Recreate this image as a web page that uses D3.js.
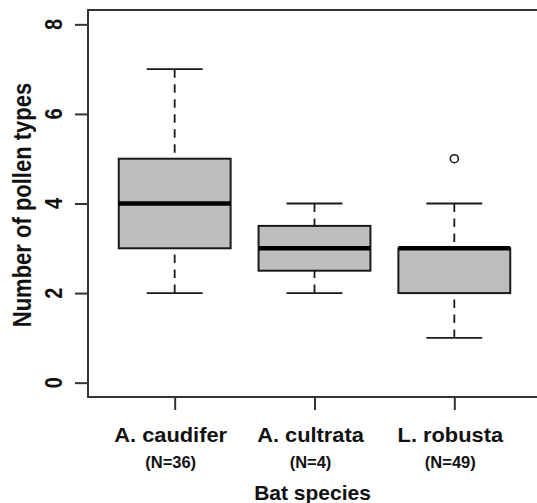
<!DOCTYPE html>
<meta charset="utf-8">
<head>
  <style>
    body { margin: 0; background: #fff; }
    svg { display: block; }
    .lbl { font-family: 'Liberation Sans', Arial, sans-serif; font-weight: bold; fill: #111; }
  </style>
</head>
<body>
<svg id="chart" width="537" height="503"></svg>
<script src="https://d3js.org/d3.v7.min.js"></script>
<script>
  // values
  var species = ["A. caudifer", "A. cultrata", "L. robusta"];
  var sampleN = ["(N=36)", "(N=4)", "(N=49)"];
  var whiskLo = [2, 2, 1];
  var q1 = [3, 2.5, 2];
  var med = [4, 3, 3];
  var q3 = [5, 3.5, 3];
  var whiskHi = [7, 4, 4];
  var outliers = [[], [], [5]];
  var yTicks = [0, 2, 4, 6, 8];

  var svg = d3.select("#chart");

  // R style limits: 4% padding
  var plotL = 88, plotR = 541, plotT = 10, plotB = 397;
  var x = d3.scaleLinear().domain([0.38, 3.62]).range([plotL, plotR]);
  var y = d3.scaleLinear().domain([-0.32, 8.32]).range([plotB, plotT]);

  var boxHalf = 0.4, capHalf = 0.2;
  var ink = "#1a1a1a";
  var wide = 1.12;   // the original text is a bit stretched sideways

  var boxes = species.map(function (s, i) {
    return {i: i + 1, lo: whiskLo[i], q1: q1[i], med: med[i], q3: q3[i], hi: whiskHi[i], out: outliers[i]};
  });

  var g = svg.selectAll("g.box").data(boxes).enter().append("g").attr("class", "box");

  // whiskers (dashed), drawn from the whisker end towards the box like R does
  g.append("line")
    .attr("x1", d => x(d.i)).attr("x2", d => x(d.i))
    .attr("y1", d => y(d.hi)).attr("y2", d => y(d.q3))
    .attr("stroke", ink).attr("stroke-width", 1.8).attr("stroke-dasharray", "8.5,6.5");
  g.append("line")
    .attr("x1", d => x(d.i)).attr("x2", d => x(d.i))
    .attr("y1", d => y(d.lo)).attr("y2", d => y(d.q1))
    .attr("stroke", ink).attr("stroke-width", 1.8).attr("stroke-dasharray", "8.5,6.5");

  // staples
  g.append("line")
    .attr("x1", d => x(d.i - capHalf)).attr("x2", d => x(d.i + capHalf))
    .attr("y1", d => y(d.hi)).attr("y2", d => y(d.hi))
    .attr("stroke", ink).attr("stroke-width", 1.8);
  g.append("line")
    .attr("x1", d => x(d.i - capHalf)).attr("x2", d => x(d.i + capHalf))
    .attr("y1", d => y(d.lo)).attr("y2", d => y(d.lo))
    .attr("stroke", ink).attr("stroke-width", 1.8);

  // box
  g.append("rect")
    .attr("x", d => x(d.i - boxHalf))
    .attr("width", d => x(d.i + boxHalf) - x(d.i - boxHalf))
    .attr("y", d => y(d.q3))
    .attr("height", d => y(d.q1) - y(d.q3))
    .attr("fill", "#bebebe").attr("stroke", ink).attr("stroke-width", 2);

  // median
  g.append("line")
    .attr("x1", d => x(d.i - boxHalf)).attr("x2", d => x(d.i + boxHalf))
    .attr("y1", d => y(d.med)).attr("y2", d => y(d.med))
    .attr("stroke", "#000").attr("stroke-width", 4.5);

  // outliers
  g.selectAll("circle").data(d => d.out.map(v => ({i: d.i, v: v}))).enter()
    .append("circle")
    .attr("cx", d => x(d.i)).attr("cy", d => y(d.v)).attr("r", 4)
    .attr("fill", "none").attr("stroke", ink).attr("stroke-width", 1.6);

  // frame
  svg.append("rect")
    .attr("x", plotL).attr("y", plotT)
    .attr("width", plotR - plotL).attr("height", plotB - plotT)
    .attr("fill", "none").attr("stroke", "#333").attr("stroke-width", 2);

  // y axis
  var yAxis = svg.append("g").attr("transform", "translate(" + plotL + ",0)")
    .call(d3.axisLeft(y).tickValues(yTicks).tickSize(13).tickFormat(""));
  yAxis.select(".domain").remove();
  yAxis.selectAll("line").attr("stroke", "#333").attr("stroke-width", 2);

  svg.selectAll("text.ytick").data(yTicks).enter().append("text")
    .attr("class", "lbl ytick")
    .attr("transform", d => "translate(62," + y(d) + ") scale(" + 1.15 + ",1) rotate(-90)")
    .attr("text-anchor", "middle")
    .style("font-size", "20px")
    .text(d => d);

  // x axis
  var xAxis = svg.append("g").attr("transform", "translate(0," + plotB + ")")
    .call(d3.axisBottom(x).tickValues([1, 2, 3]).tickSize(13).tickFormat(""));
  xAxis.select(".domain").remove();
  xAxis.selectAll("line").attr("stroke", "#333").attr("stroke-width", 2);

  svg.selectAll("text.sp").data(species).enter().append("text")
    .attr("class", "lbl sp")
    .attr("transform", (d, i) => "translate(" + (x(i + 1) - 4) + ",441.5) scale(" + wide + ",1)")
    .attr("text-anchor", "middle")
    .style("font-size", "19.5px")
    .text(d => d);

  svg.selectAll("text.nn").data(sampleN).enter().append("text")
    .attr("class", "lbl nn")
    .attr("x", (d, i) => x(i + 1) - 4).attr("y", 467.5)
    .attr("text-anchor", "middle")
    .style("font-size", "16.5px")
    .text(d => d);

  // axis titles
  svg.append("text").attr("class", "lbl")
    .attr("x", x(2) - 2).attr("y", 500)
    .attr("text-anchor", "middle")
    .style("font-size", "21px")
    .text("Bat species");

  svg.append("text").attr("class", "lbl")
    .attr("transform", "translate(31,205) scale(1.13,1) rotate(-90)")
    .attr("text-anchor", "middle")
    .style("font-size", "22px")
    .text("Number of pollen types");
</script>
</body>
